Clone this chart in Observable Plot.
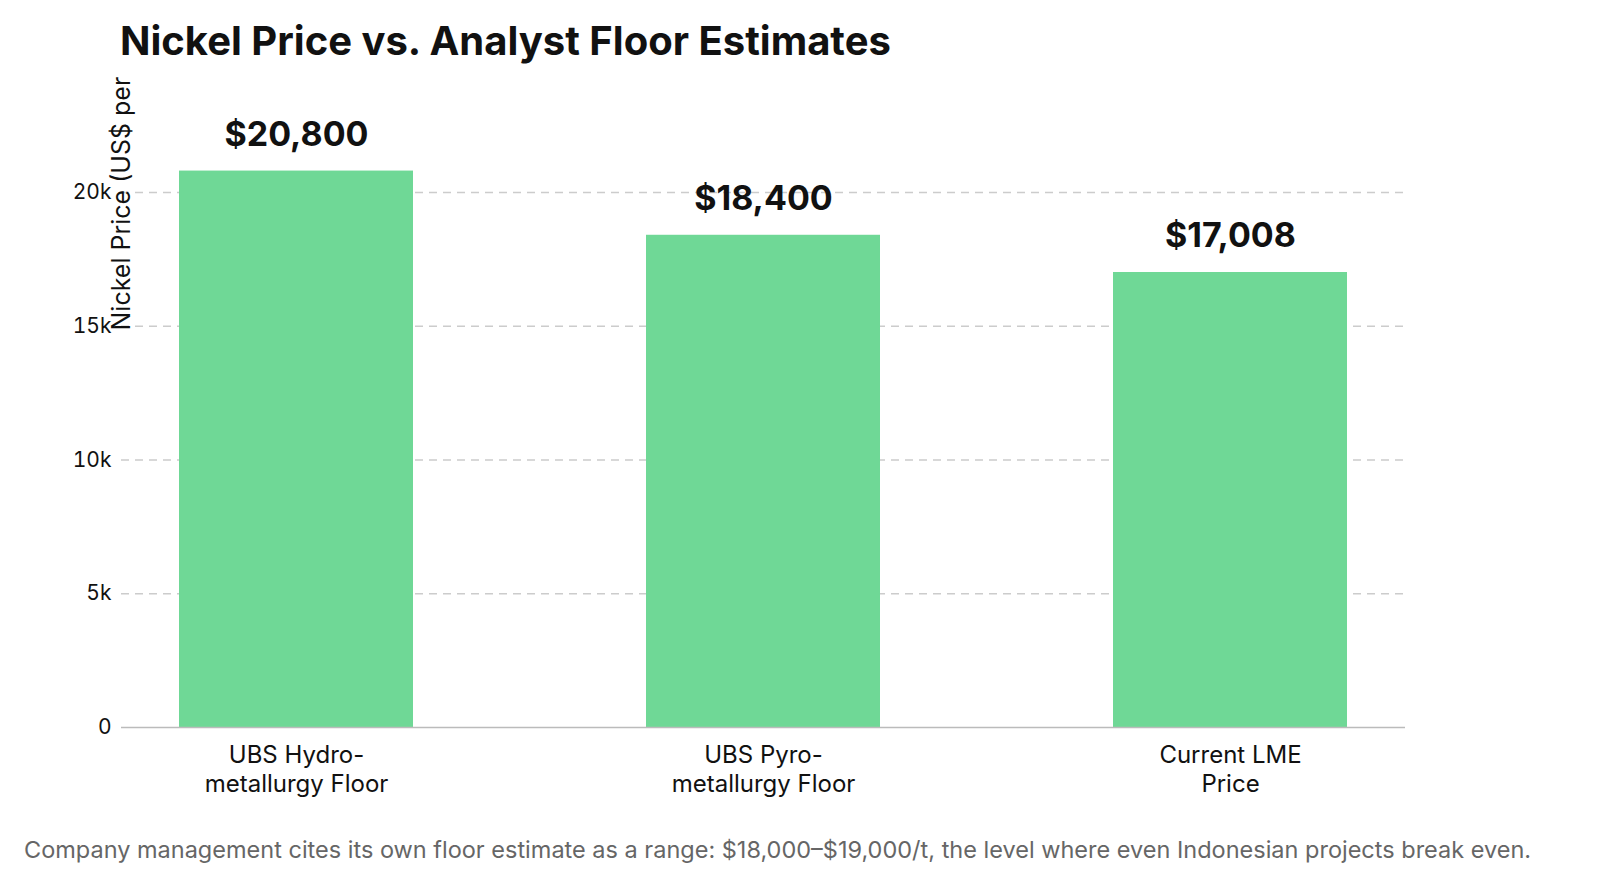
<!DOCTYPE html>
<html><head><meta charset="utf-8">
<script src="https://cdn.jsdelivr.net/npm/d3@7"></script>
<script src="https://cdn.jsdelivr.net/npm/@observablehq/plot@0.6"></script>
<style>
body{margin:0;background:#fff;font-family:Inter,"Noto Sans",sans-serif;width:1608px}
#t{height:75px;box-sizing:border-box;padding:16px 0 0 120px;font-size:40px;font-weight:700;color:#111}
#c{padding:20px 0 0 24px;font-size:23.5px;color:#666;white-space:nowrap}
</style></head><body>
<div id="t">Nickel Price vs. Analyst Floor Estimates</div>
<div id="p"></div>
<div id="c">Company management cites its own floor estimate as a range: $18,000–$19,000/t, the level where even Indonesian projects break even.</div>
<script>
const categories = ["UBS Hydro-\nmetallurgy Floor","UBS Pyro-\nmetallurgy Floor","Current LME\nPrice"];
const values = [20800, 18400, 17008];
const valueLabels = ["$20,800","$18,400","$17,008"];
const yTicks = [0,5000,10000,15000,20000];
const yTickLabels = ["0","5k","10k","15k","20k"];
const data = categories.map((c,i)=>({c, v:values[i], l:valueLabels[i]}));
const chart = Plot.plot({
  width:1608, height:740,
  marginLeft:121, marginRight:203, marginTop:22, marginBottom:88,
  style:{fontFamily:"Inter, 'Noto Sans', sans-serif", fontSize:"20px", color:"#111"},
  x:{domain:categories, paddingInner:0.5, paddingOuter:0.123, label:null},
  y:{domain:[0,23550], label:null},
  marks:[
    Plot.gridY(yTicks.slice(1), {stroke:"#ccc", strokeOpacity:1, strokeDasharray:"8,6", strokeWidth:1.5}),
    Plot.barY(data, {x:"c", y:"v", fill:"#6fd896"}),
    Plot.text(data, {x:"c", y:"v", text:"l", dy:-36, fontSize:34, fontWeight:700, fill:"#111"}),
    Plot.ruleY([0], {stroke:"#bbb", strokeWidth:1.5}),
    Plot.ruleX([0], {frameAnchor:"left", stroke:"#bbb", strokeWidth:1.5}),
    Plot.axisX({tickSize:0, tickPadding:15, fontSize:24, lineHeight:1.2, fill:"#111"}),
    Plot.axisY({ticks:yTicks, tickFormat:(d)=>yTickLabels[yTicks.indexOf(d)], tickSize:0, tickPadding:10, fontSize:21, fill:"#111", label:null}),
    Plot.text(["Nickel Price (US$ per tonne)"], {frameAnchor:"left", dy:-82, rotate:-90, fontSize:25, fill:"#111"})
  ]
});
document.getElementById("p").appendChild(chart);
</script></body></html>
